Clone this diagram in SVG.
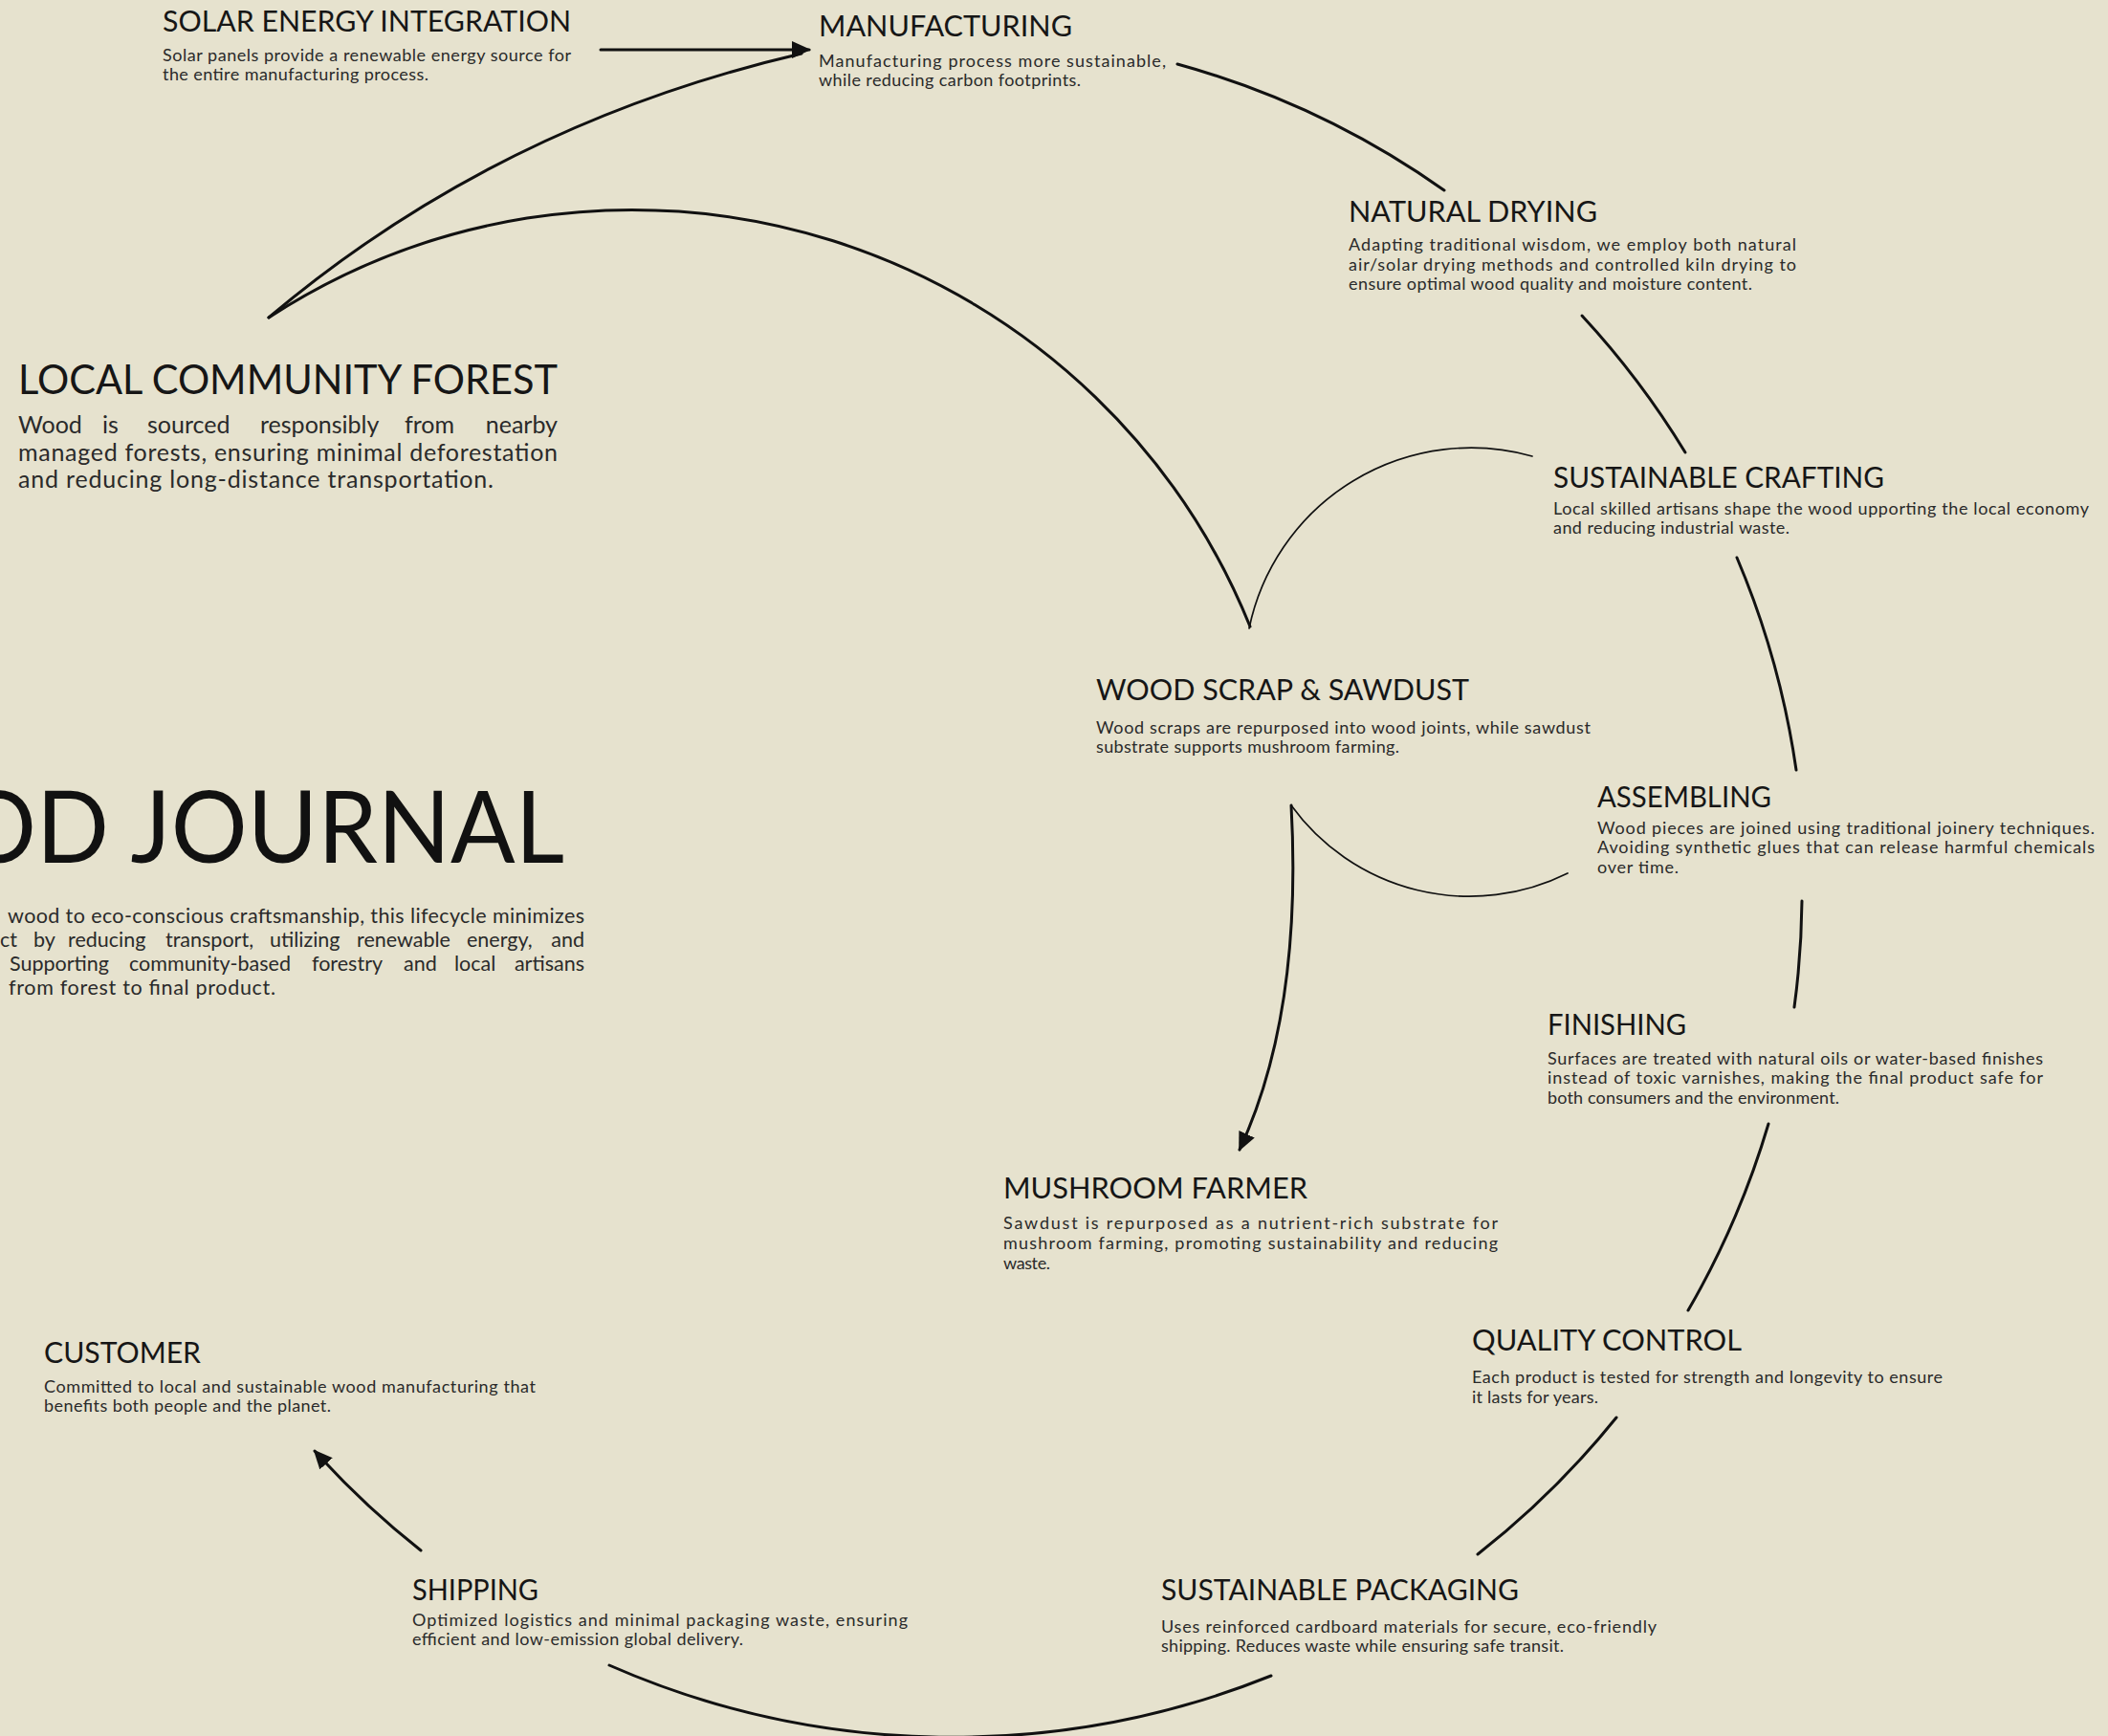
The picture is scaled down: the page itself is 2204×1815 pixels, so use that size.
<svg xmlns="http://www.w3.org/2000/svg" width="2204" height="1815" viewBox="0 0 2204 1815">
<defs>
<style>
.ti{font-family:Lato,"Noto Sans","Liberation Sans",sans-serif;font-size:30px;fill:#161616;}
.big{font-family:Lato,"Noto Sans","Liberation Sans",sans-serif;font-size:42px;fill:#161616;}
.ds{font-family:Lato,"Noto Sans","Liberation Sans",sans-serif;font-size:18px;fill:#2a2a2a;}
.dl{font-family:Lato,"Noto Sans","Liberation Sans",sans-serif;font-size:25px;fill:#2a2a2a;}
.in{font-family:Lato,"Noto Sans","Liberation Sans",sans-serif;font-size:21.5px;fill:#2a2a2a;}
.hd{font-family:Lato,"Noto Sans","Liberation Sans",sans-serif;font-size:104px;fill:#111;}
.c{fill:none;stroke:#111;stroke-width:3;stroke-linecap:round;}
.cth{fill:none;stroke:#111;stroke-width:1.7;stroke-linecap:round;}
</style>
<marker id="ah" viewBox="0 0 20 20" refX="18" refY="10" markerWidth="20" markerHeight="20" markerUnits="userSpaceOnUse" orient="auto">
<path d="M0,1 L20,10 L0,19 Z" fill="#111"/>
</marker>
</defs>
<rect x="0" y="0" width="2204" height="1815" fill="#E6E2CE"/>

<g id="connectors">
<path class="c" d="M628 52 L846 52" marker-end="url(#ah)"/>
<path class="c" d="M281 332 Q520 130 838 56"/>
<path class="c" d="M281 332 A697 697 0 0 1 1307 655"/>
<path class="cth" d="M1306 657 A237 237 0 0 1 1602 477"/>
<path class="cth" d="M1350 842 A230 230 0 0 0 1639 913"/>
<path class="c" d="M1350 842 Q1362 1060 1296 1202" marker-end="url(#ah)"/>
<path class="c" d="M1231 67 A894 894 0 0 1 1510 199"/>
<path class="c" d="M1654 330 A894 894 0 0 1 1762 473"/>
<path class="c" d="M1816 583 A894 894 0 0 1 1878 805"/>
<path class="c" d="M1884 942 A894 894 0 0 1 1876 1053"/>
<path class="c" d="M1849 1175 A894 894 0 0 1 1765 1370"/>
<path class="c" d="M1690 1482 A894 894 0 0 1 1545 1625"/>
<path class="c" d="M1329 1752 A894 894 0 0 1 637 1741"/>
<path class="c" d="M440 1621 A894 894 0 0 1 329 1517" marker-end="url(#ah)"/>
</g>

<g id="title">
<text class="hd" x="-42" y="902" textLength="632" lengthAdjust="spacingAndGlyphs">OD JOURNAL</text>
<text class="in" x="8" y="965" textLength="603">wood to eco-conscious craftsmanship, this lifecycle minimizes</text>
<text class="in" y="990"><tspan x="0">ct</tspan> <tspan x="35">by</tspan> <tspan x="71">reducing</tspan> <tspan x="173">transport,</tspan> <tspan x="282">utilizing</tspan> <tspan x="373">renewable</tspan> <tspan x="488">energy,</tspan> <tspan x="611" text-anchor="end">and</tspan></text>
<text class="in" y="1015"><tspan x="10">Supporting</tspan> <tspan x="135">community-based</tspan> <tspan x="326">forestry</tspan> <tspan x="422">and</tspan> <tspan x="475">local</tspan> <tspan x="611" text-anchor="end">artisans</tspan></text>
<text class="in" x="9" y="1040" textLength="279">from forest to final product.</text>
</g>

<g id="solar-energy-integration">
<text class="ti" x="170" y="33" textLength="427" lengthAdjust="spacingAndGlyphs">SOLAR ENERGY INTEGRATION</text>
<text class="ds" x="170" y="64" textLength="427">Solar panels provide a renewable energy source for</text>
<text class="ds" x="170" y="84" textLength="278">the entire manufacturing process.</text>
</g>

<g id="manufacturing">
<text class="ti" x="856" y="38" textLength="265" lengthAdjust="spacingAndGlyphs">MANUFACTURING</text>
<text class="ds" x="856" y="70" textLength="363">Manufacturing process more sustainable,</text>
<text class="ds" x="856" y="90" textLength="274">while reducing carbon footprints.</text>
</g>

<g id="local-community-forest">
<text class="big" x="19" y="412" textLength="564" lengthAdjust="spacingAndGlyphs">LOCAL COMMUNITY FOREST</text>
<text class="dl" y="453"><tspan x="19">Wood</tspan> <tspan x="107">is</tspan> <tspan x="154">sourced</tspan> <tspan x="272">responsibly</tspan> <tspan x="423">from</tspan> <tspan x="583" text-anchor="end">nearby</tspan></text>
<text class="dl" x="19" y="482" textLength="564">managed forests, ensuring minimal deforestation</text>
<text class="dl" x="19" y="510" textLength="497">and reducing long-distance transportation.</text>
</g>

<g id="natural-drying">
<text class="ti" x="1410" y="232" textLength="260" lengthAdjust="spacingAndGlyphs">NATURAL DRYING</text>
<text class="ds" x="1410" y="262" textLength="468">Adapting traditional wisdom, we employ both natural</text>
<text class="ds" x="1410" y="283" textLength="468">air/solar drying methods and controlled kiln drying to</text>
<text class="ds" x="1410" y="303" textLength="422">ensure optimal wood quality and moisture content.</text>
</g>

<g id="sustainable-crafting">
<text class="ti" x="1624" y="510" textLength="346" lengthAdjust="spacingAndGlyphs">SUSTAINABLE CRAFTING</text>
<text class="ds" x="1624" y="538" textLength="560">Local skilled artisans shape the wood upporting the local economy</text>
<text class="ds" x="1624" y="558" textLength="247">and reducing industrial waste.</text>
</g>

<g id="wood-scrap-sawdust">
<text class="ti" x="1146" y="732" textLength="390" lengthAdjust="spacingAndGlyphs">WOOD SCRAP &amp; SAWDUST</text>
<text class="ds" x="1146" y="767" textLength="517">Wood scraps are repurposed into wood joints, while sawdust</text>
<text class="ds" x="1146" y="787" textLength="317">substrate supports mushroom farming.</text>
</g>

<g id="assembling">
<text class="ti" x="1670" y="844" textLength="182" lengthAdjust="spacingAndGlyphs">ASSEMBLING</text>
<text class="ds" x="1670" y="872" textLength="520">Wood pieces are joined using traditional joinery techniques.</text>
<text class="ds" x="1670" y="892" textLength="520">Avoiding synthetic glues that can release harmful chemicals</text>
<text class="ds" x="1670" y="913" textLength="85">over time.</text>
</g>

<g id="finishing">
<text class="ti" x="1618" y="1082" textLength="145" lengthAdjust="spacingAndGlyphs">FINISHING</text>
<text class="ds" x="1618" y="1113" textLength="518">Surfaces are treated with natural oils or water-based finishes</text>
<text class="ds" x="1618" y="1133" textLength="518">instead of toxic varnishes, making the final product safe for</text>
<text class="ds" x="1618" y="1154" textLength="305">both consumers and the environment.</text>
</g>

<g id="mushroom-farmer">
<text class="ti" x="1049" y="1253" textLength="318" lengthAdjust="spacingAndGlyphs">MUSHROOM FARMER</text>
<text class="ds" x="1049" y="1285" textLength="517">Sawdust is repurposed as a nutrient-rich substrate for</text>
<text class="ds" x="1049" y="1306" textLength="517">mushroom farming, promoting sustainability and reducing</text>
<text class="ds" x="1049" y="1327" textLength="49">waste.</text>
</g>

<g id="quality-control">
<text class="ti" x="1539" y="1412" textLength="282" lengthAdjust="spacingAndGlyphs">QUALITY CONTROL</text>
<text class="ds" x="1539" y="1446" textLength="492">Each product is tested for strength and longevity to ensure</text>
<text class="ds" x="1539" y="1467" textLength="132">it lasts for years.</text>
</g>

<g id="sustainable-packaging">
<text class="ti" x="1214" y="1673" textLength="374" lengthAdjust="spacingAndGlyphs">SUSTAINABLE PACKAGING</text>
<text class="ds" x="1214" y="1707" textLength="518">Uses reinforced cardboard materials for secure, eco-friendly</text>
<text class="ds" x="1214" y="1727" textLength="421">shipping. Reduces waste while ensuring safe transit.</text>
</g>

<g id="shipping">
<text class="ti" x="431" y="1673" textLength="132" lengthAdjust="spacingAndGlyphs">SHIPPING</text>
<text class="ds" x="431" y="1700" textLength="518">Optimized logistics and minimal packaging waste, ensuring</text>
<text class="ds" x="431" y="1720" textLength="346">efficient and low-emission global delivery.</text>
</g>

<g id="customer">
<text class="ti" x="46" y="1425" textLength="164" lengthAdjust="spacingAndGlyphs">CUSTOMER</text>
<text class="ds" x="46" y="1456" textLength="514">Committed to local and sustainable wood manufacturing that</text>
<text class="ds" x="46" y="1476" textLength="300">benefits both people and the planet.</text>
</g>
</svg>
